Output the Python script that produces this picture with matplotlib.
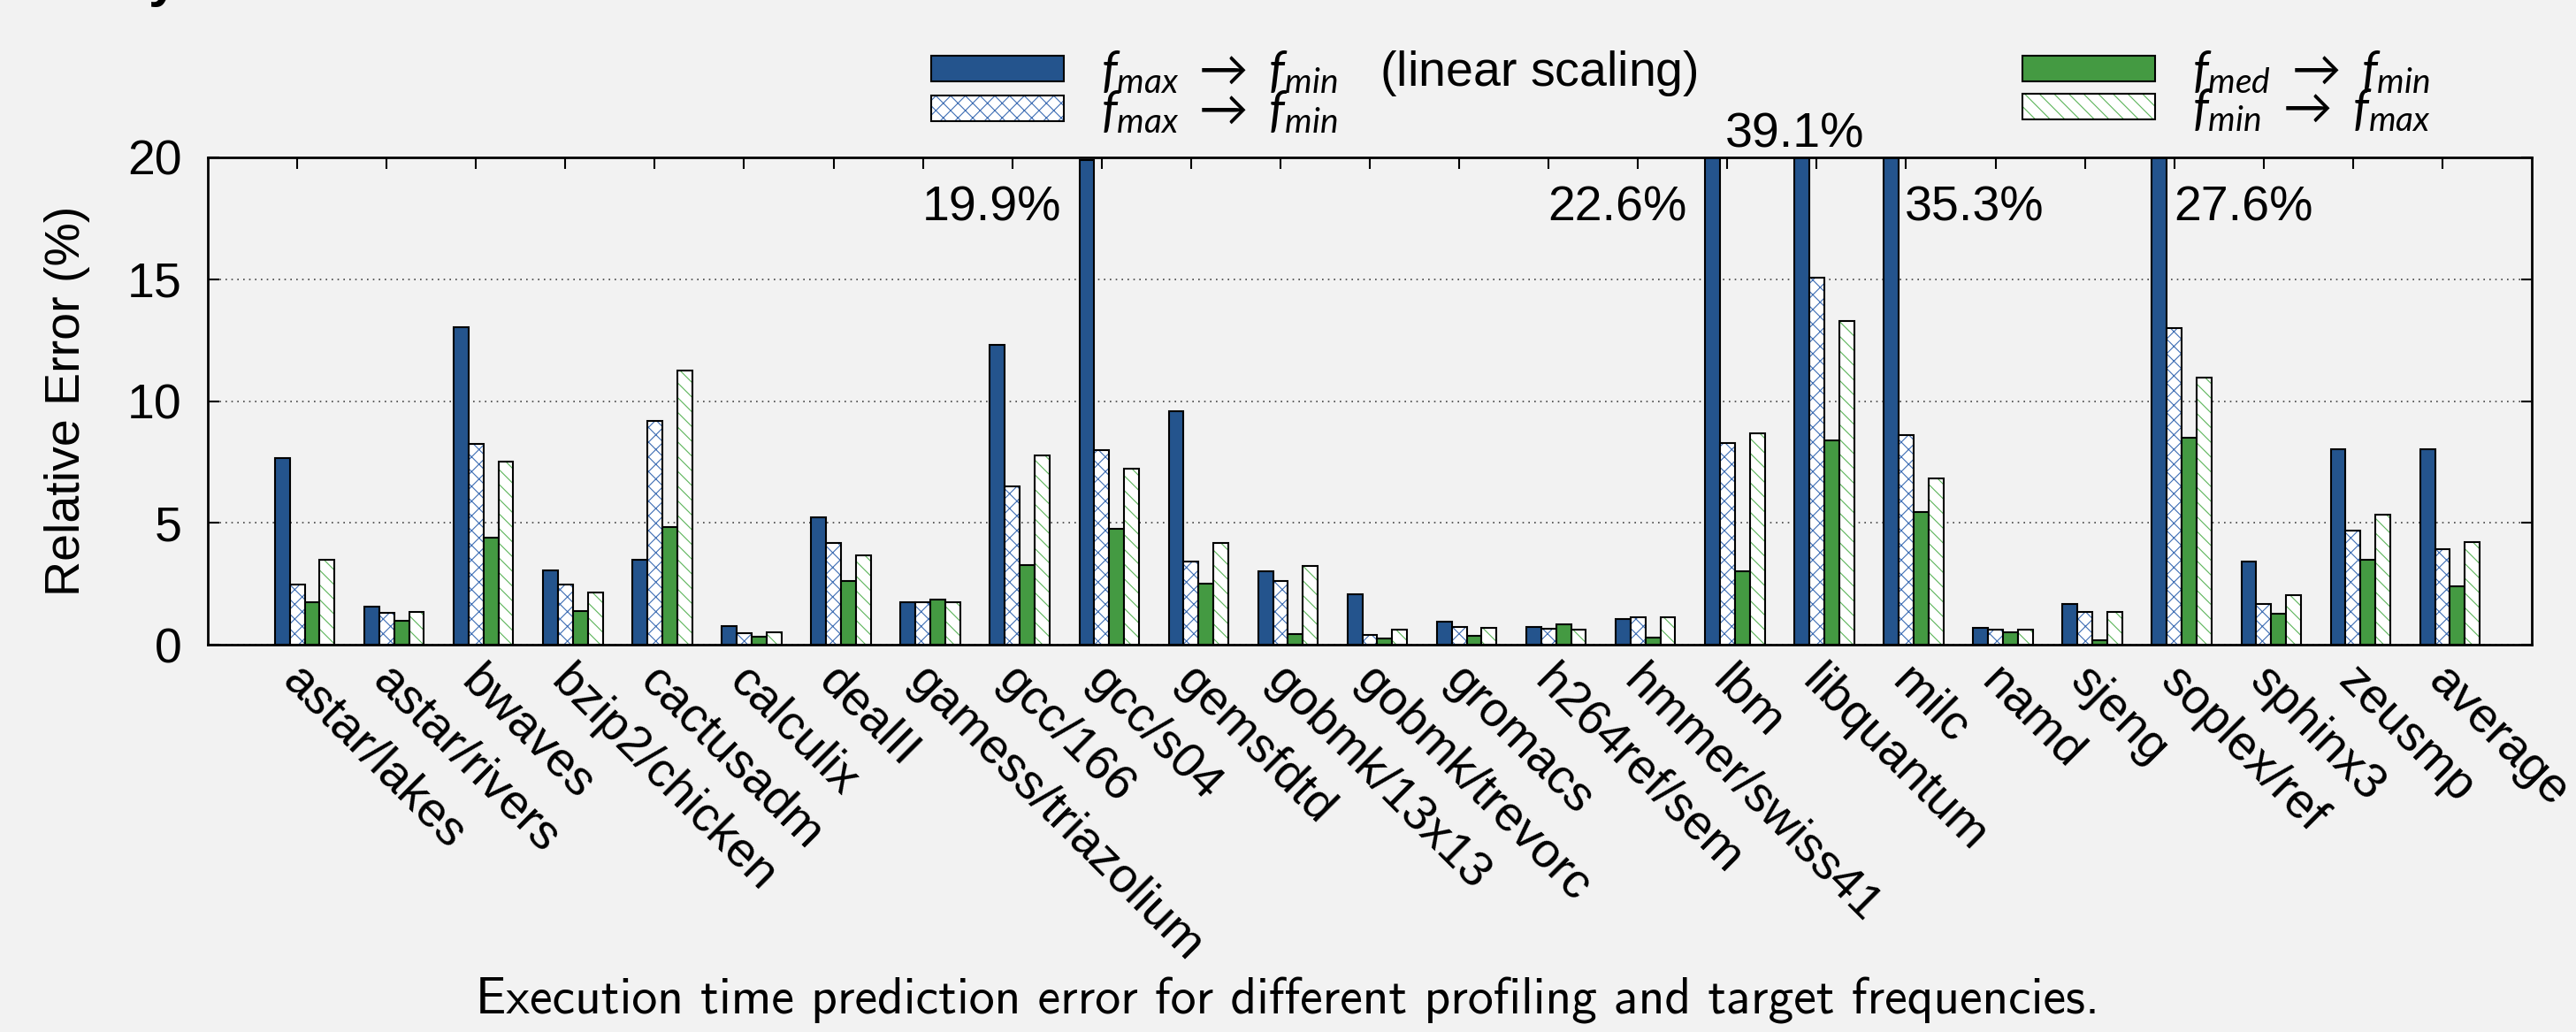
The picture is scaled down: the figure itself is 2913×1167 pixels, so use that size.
import numpy as np
import matplotlib
matplotlib.use('Agg')
import matplotlib.pyplot as plt
from matplotlib.transforms import ScaledTranslation

plt.rcParams['font.family'] = ['Liberation Sans', 'DejaVu Sans']
plt.rcParams['mathtext.fontset'] = 'custom'
plt.rcParams['mathtext.it'] = 'Lato:italic'
plt.rcParams['mathtext.rm'] = 'Lato'
plt.rcParams['hatch.linewidth'] = 0.8

# Benchmarks and relative errors (%) per profiling/target frequency pair
benchmarks = ['astar/lakes', 'astar/rivers', 'bwaves', 'bzip2/chicken', 'cactusadm',
              'calculix', 'dealII', 'gamess/triazolium', 'gcc/166', 'gcc/s04',
              'gemsfdtd', 'gobmk/13x13', 'gobmk/trevorc', 'gromacs', 'h264ref/sem',
              'hmmer/swiss41', 'lbm', 'libquantum', 'milc', 'namd', 'sjeng',
              'soplex/ref', 'sphinx3', 'zeusmp', 'average']
linear_max_min = [7.67, 1.56, 13.02, 3.06, 3.47, 0.75, 5.21, 1.74, 12.29, 19.9,
                  9.59, 3.02, 2.06, 0.93, 0.71, 1.06, 22.6, 39.1, 35.3, 0.68,
                  1.68, 27.6, 3.41, 8.02, 8.02]
max_min = [2.46, 1.32, 8.23, 2.46, 9.19, 0.49, 4.17, 1.74, 6.49, 7.99,
           3.43, 2.63, 0.40, 0.72, 0.64, 1.13, 8.26, 15.07, 8.62, 0.61,
           1.33, 12.98, 1.68, 4.67, 3.92]
med_min = [1.74, 0.97, 4.41, 1.39, 4.82, 0.33, 2.60, 1.85, 3.27, 4.75,
           2.50, 0.44, 0.24, 0.35, 0.83, 0.28, 3.00, 8.37, 5.43, 0.50,
           0.18, 8.49, 1.26, 3.50, 2.38]
min_max = [3.50, 1.35, 7.51, 2.14, 11.26, 0.50, 3.67, 1.75, 7.78, 7.23,
           4.16, 3.22, 0.63, 0.68, 0.63, 1.13, 8.67, 13.29, 6.81, 0.61,
           1.33, 10.97, 2.03, 5.34, 4.20]

# where the off-scale values get written: (x offset from tick, y, alignment)
off_scale_labels = {
    'gcc/s04': (-0.45, 17.42, 'right'),
    'lbm': (-0.45, 17.42, 'right'),
    'libquantum': (-0.25, 20.4, 'center'),
    'milc': (-0.02, 17.42, 'left'),
    'soplex/ref': (0.0, 17.42, 'left'),
}

blue = '#24548d'
blue_hatch = '#3d6db3'
green = '#449a42'
green_hatch = '#5cb45a'
bg = '#f2f2f2'

fig = plt.figure(figsize=(29.13, 11.67), dpi=100, facecolor=bg)
ax = fig.add_axes([235 / 2913, 1 - 729 / 1167, 2628 / 2913, 551 / 1167])
ax.set_facecolor(bg)

x = np.arange(1, len(benchmarks) + 1)
w = 0.167
left = x - 0.25

h_lin = ax.bar(left, linear_max_min, w, align='edge', color=blue,
               edgecolor='black', linewidth=1.5)

# hatched bars: hatch drawn in colour, black outline on top
hx = ax.bar(left + w, max_min, w, align='edge', color='white',
            edgecolor=blue_hatch, hatch='xx', linewidth=0)
hx_o = ax.bar(left + w, max_min, w, align='edge', fill=False,
              edgecolor='black', linewidth=1.5)

h_med = ax.bar(left + 2 * w, med_min, w, align='edge', color=green,
               edgecolor='black', linewidth=1.5)

hd = ax.bar(left + 3 * w, min_max, w, align='edge', color='white',
            edgecolor=green_hatch, hatch='\\\\', linewidth=0)
hd_o = ax.bar(left + 3 * w, min_max, w, align='edge', fill=False,
              edgecolor='black', linewidth=1.5)

for name, (dx, y, ha) in off_scale_labels.items():
    i = benchmarks.index(name)
    ax.text(x[i] + dx, y, f'{linear_max_min[i]:.1f}%', ha=ha, va='baseline',
            fontsize=40, clip_on=False)

ax.set_xlim(0, 26)
ax.set_ylim(0, 20)
ax.set_yticks([0, 5, 10, 15, 20])
ax.set_xticks(x)
ax.tick_params(axis='x', bottom=False, top=True, direction='in',
               length=9, width=1.5, pad=11)
ax.tick_params(axis='y', left=True, right=True, direction='in',
               length=9, width=1.5, pad=21, labelsize=40)
ax.set_xticklabels(benchmarks, rotation=-45, ha='left', va='top',
                   rotation_mode='anchor', fontsize=40)
shift = ScaledTranslation(0.1, 0, fig.dpi_scale_trans)
for lbl in ax.get_xticklabels():
    lbl.set_transform(lbl.get_transform() + shift)
ax.set_ylabel('Relative Error (%)', fontsize=40, labelpad=30)

ax.yaxis.grid(True, linestyle=(0, (1, 3)), color='#444444', linewidth=1.2)
ax.set_axisbelow(True)
for s in ax.spines.values():
    s.set_linewidth(2)

handles = [h_lin, (hx, hx_o), h_med, (hd, hd_o)]
labels = [r'$f_{max}\ \rightarrow\ f_{min}$   (linear scaling)',
          r'$f_{max}\ \rightarrow\ f_{min}$',
          r'$f_{med}\ \rightarrow\ f_{min}$',
          r'$f_{min}\ \rightarrow\ f_{max}$']
fig.legend(handles, labels, loc='upper left',
           bbox_to_anchor=(1053 / 2913, 1 - 55 / 1167), ncol=2, frameon=False,
           fontsize=40, handlelength=2.7, handleheight=0.43, handletextpad=0.76,
           columnspacing=6.6, labelspacing=-0.17, borderpad=0, borderaxespad=0)

fig.text(168 / 2913, 1 + 5 / 1167, 'y', fontsize=44, fontweight='bold',
         va='baseline')
fig.text(0.5, 1 - 1132 / 1167,
         'Execution time prediction error for different profiling and target frequencies.',
         ha='center', va='center', family='cmss10', fontsize=41.5)

fig.savefig('out.png', dpi=100, facecolor=bg)
